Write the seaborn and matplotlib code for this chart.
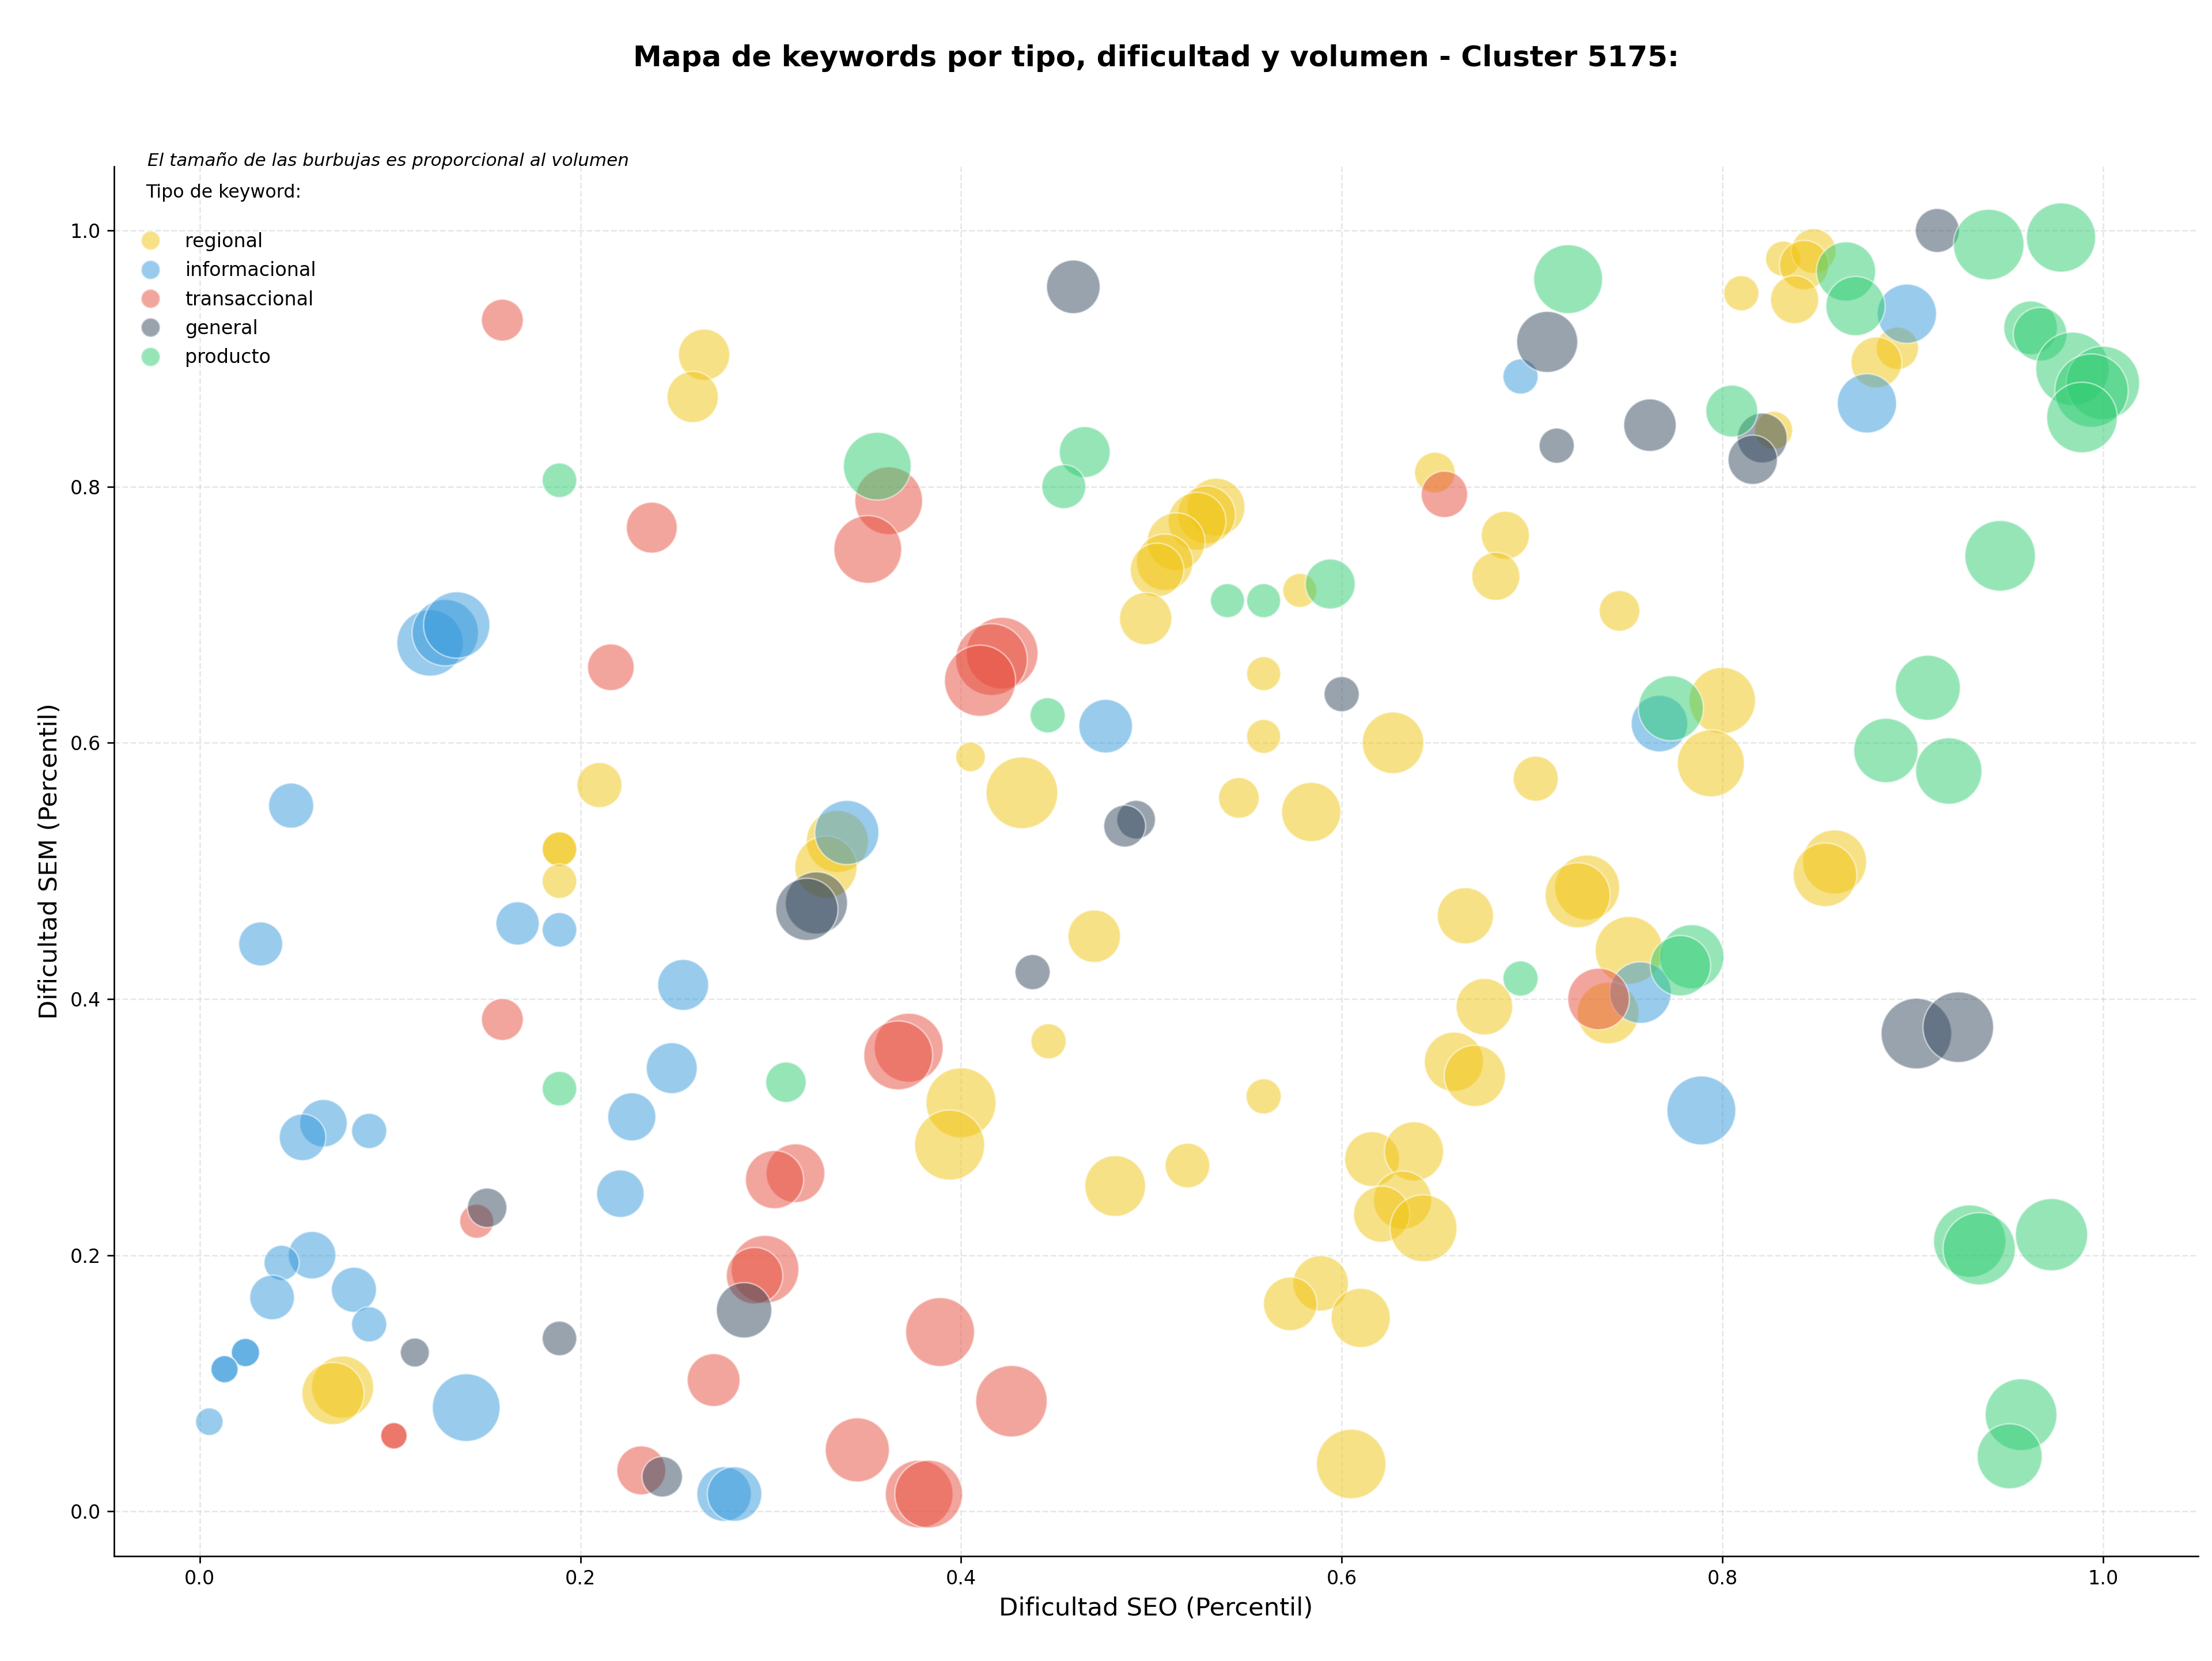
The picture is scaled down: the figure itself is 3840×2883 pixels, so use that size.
import numpy as np
import pandas as pd
import matplotlib
matplotlib.use("Agg")
import matplotlib.pyplot as plt
from matplotlib.lines import Line2D
import seaborn as sns

# Keywords per type: SEO difficulty, SEM difficulty (percentiles), search volume
regional_seo = [0.265, 0.259, 0.210, 0.189, 0.189, 0.189, 0.075, 0.070, 0.335, 0.329,
                0.534, 0.529, 0.524, 0.513, 0.507, 0.503, 0.497, 0.578, 0.559, 0.559,
                0.627, 0.546, 0.584, 0.649, 0.686, 0.681, 0.746, 0.702, 0.832, 0.848,
                0.843, 0.810, 0.838, 0.892, 0.881, 0.827, 0.800, 0.794, 0.859, 0.854,
                0.729, 0.724, 0.665, 0.751, 0.740, 0.675, 0.659, 0.670, 0.559, 0.519,
                0.616, 0.638, 0.632, 0.621, 0.643, 0.589, 0.573, 0.610, 0.605, 0.405,
                0.432, 0.470, 0.446, 0.400, 0.394, 0.481]
regional_sem = [0.903, 0.870, 0.567, 0.517, 0.517, 0.492, 0.097, 0.092, 0.523, 0.503,
                0.784, 0.778, 0.773, 0.757, 0.741, 0.735, 0.697, 0.719, 0.654, 0.605,
                0.600, 0.557, 0.546, 0.811, 0.762, 0.730, 0.703, 0.572, 0.978, 0.984,
                0.973, 0.951, 0.946, 0.908, 0.897, 0.844, 0.633, 0.584, 0.507, 0.497,
                0.487, 0.481, 0.465, 0.438, 0.389, 0.394, 0.351, 0.340, 0.324, 0.270,
                0.275, 0.281, 0.243, 0.232, 0.221, 0.178, 0.162, 0.151, 0.037, 0.589,
                0.561, 0.449, 0.367, 0.319, 0.286, 0.254]
regional_vol = [1320, 1320, 1020, 600, 600, 600, 1940, 1940, 1940, 1940,
                1680, 1680, 1680, 1680, 1600, 1440, 1370, 580, 580, 580,
                1900, 830, 1760, 830, 1160, 1160, 830, 1020, 620, 1000,
                1220, 620, 1160, 900, 1300, 720, 2210, 2250, 2060, 2030,
                2120, 2120, 1580, 2300, 1900, 1600, 1760, 1880, 620, 1000,
                1510, 1760, 1700, 1580, 2250, 1540, 1440, 1760, 2420, 440,
                2580, 1380, 620, 2460, 2460, 1850]

info_seo = [0.121, 0.129, 0.135, 0.048, 0.032, 0.167, 0.189, 0.254, 0.248, 0.227,
            0.221, 0.065, 0.054, 0.089, 0.059, 0.043, 0.038, 0.081, 0.089, 0.024,
            0.024, 0.013, 0.013, 0.005, 0.140, 0.2755, 0.281, 0.340, 0.476, 0.694,
            0.897, 0.876, 0.767, 0.757, 0.789]
info_sem = [0.678, 0.686, 0.692, 0.551, 0.443, 0.459, 0.454, 0.411, 0.346, 0.308,
            0.248, 0.303, 0.292, 0.297, 0.200, 0.194, 0.167, 0.173, 0.146, 0.124,
            0.124, 0.111, 0.111, 0.070, 0.081, 0.0135, 0.0135, 0.530, 0.613, 0.886,
            0.935, 0.865, 0.615, 0.405, 0.313]
info_vol = [2210, 2210, 2210, 1020, 970, 940, 600, 1300, 1300, 1160,
            1130, 1130, 1090, 620, 1130, 620, 1000, 1020, 620, 400,
            400, 370, 370, 380, 2300, 1490, 1490, 2060, 1440, 620,
            1760, 1760, 1600, 1900, 2380]

trans_seo = [0.159, 0.2375, 0.216, 0.159, 0.1455, 0.102, 0.102, 0.362, 0.351, 0.4216,
             0.416, 0.410, 0.654, 0.735, 0.3725, 0.367, 0.313, 0.302, 0.297, 0.2915,
             0.270, 0.389, 0.4265, 0.3455, 0.378, 0.383, 0.232]
trans_sem = [0.930, 0.768, 0.659, 0.384, 0.2265, 0.059, 0.059, 0.789, 0.751, 0.670,
             0.665, 0.6485, 0.794, 0.400, 0.362, 0.356, 0.264, 0.259, 0.189, 0.184,
             0.1025, 0.140, 0.086, 0.048, 0.0135, 0.0135, 0.032]
trans_vol = [880, 1300, 1090, 880, 580, 350, 350, 2300, 2300, 2580,
             2580, 2540, 1080, 1900, 2380, 2380, 1730, 1700, 2300, 1600,
             1400, 2380, 2560, 2060, 2300, 2300, 1200]

general_seo = [0.459, 0.708, 0.713, 0.762, 0.913, 0.821, 0.816, 0.600, 0.492, 0.486,
               0.324, 0.319, 0.4376, 0.151, 0.113, 0.189, 0.286, 0.243, 0.902, 0.924]
general_sem = [0.956, 0.913, 0.832, 0.848, 1.000, 0.838, 0.821, 0.638, 0.540, 0.535,
               0.475, 0.470, 0.421, 0.237, 0.124, 0.135, 0.157, 0.027, 0.373, 0.378]
general_vol = [1440, 1870, 620, 1380, 970, 1250, 1220, 620, 750, 880,
               1940, 1940, 620, 780, 420, 600, 1540, 820, 2500, 2500]

prod_seo = [0.189, 0.356, 0.465, 0.454, 0.4455, 0.308, 0.189, 0.540, 0.559, 0.594,
            0.719, 0.694, 0.773, 0.784, 0.778, 0.940, 0.978, 0.865, 0.870, 0.805,
            0.962, 0.967, 0.984, 1.000, 0.994, 0.989, 0.946, 0.908, 0.886, 0.919,
            0.930, 0.935, 0.973, 0.957, 0.951]
prod_sem = [0.805, 0.816, 0.827, 0.800, 0.6215, 0.335, 0.330, 0.711, 0.711, 0.724,
            0.962, 0.416, 0.627, 0.433, 0.426, 0.989, 0.9945, 0.968, 0.941, 0.859,
            0.924, 0.919, 0.892, 0.881, 0.875, 0.854, 0.746, 0.643, 0.594, 0.578,
            0.211, 0.205, 0.216, 0.0755, 0.043]
prod_vol = [600, 2300, 1300, 970, 620, 820, 600, 580, 580, 1250,
            2380, 620, 2120, 2060, 1830, 2500, 2400, 1760, 1760, 1350,
            1440, 1440, 2700, 2700, 2700, 2500, 2500, 2120, 2080, 2210,
            2620, 2620, 2620, 2580, 2120]

tipos = ["regional", "informacional", "transaccional", "general", "producto"]
colores = {"regional": "#F1C40F", "informacional": "#3498DB",
           "transaccional": "#E74C3C", "general": "#34495E", "producto": "#2ECC71"}

# build one table for seaborn
partes = []
for tipo, seo, sem, vol in zip(
        tipos,
        [regional_seo, info_seo, trans_seo, general_seo, prod_seo],
        [regional_sem, info_sem, trans_sem, general_sem, prod_sem],
        [regional_vol, info_vol, trans_vol, general_vol, prod_vol]):
    partes.append(pd.DataFrame({"seo": seo, "sem": sem, "volumen": vol, "tipo": tipo}))
df = pd.concat(partes, ignore_index=True)

fig, ax = plt.subplots(figsize=(16, 12.0125), dpi=240)
fig.subplots_adjust(left=0.0516, right=0.9937, bottom=0.0631, top=0.8998)

vmax = df["volumen"].max()
sns.scatterplot(data=df, x="seo", y="sem", hue="tipo", palette=colores,
                size="volumen", sizes=(0, 0.54 * vmax), size_norm=(0, vmax),
                alpha=0.5, edgecolor="white", linewidth=0.8, legend=False, ax=ax)

ax.set_xlim(-0.045, 1.05)
ax.set_ylim(-0.035, 1.05)
ax.grid(True, linestyle="--", alpha=0.3)
ax.set_axisbelow(True)
sns.despine(ax=ax)

ax.set_xlabel("Dificultad SEO (Percentil)", fontsize=13)
ax.set_ylabel("Dificultad SEM (Percentil)", fontsize=13)

fig.text(0.5226, 0.965, "Mapa de keywords por tipo, dificultad y volumen - Cluster 5175:",
         ha="center", va="center", fontsize=15, fontweight="bold")
ax.text(0.016, 1.004, "El tamaño de las burbujas es proporcional al volumen",
        transform=ax.transAxes, fontsize=9.3, style="italic", va="center")

handles = [Line2D([], [], marker="o", ls="", markerfacecolor=colores[t], alpha=0.5,
                  markeredgecolor="white", markersize=10, label=t) for t in tipos]
leg = ax.legend(handles=handles, title="Tipo de keyword:\n", loc="upper left",
                frameon=False, fontsize=10, title_fontsize=9.5, labelspacing=0.52)

fig.savefig("out.png", dpi=240)
